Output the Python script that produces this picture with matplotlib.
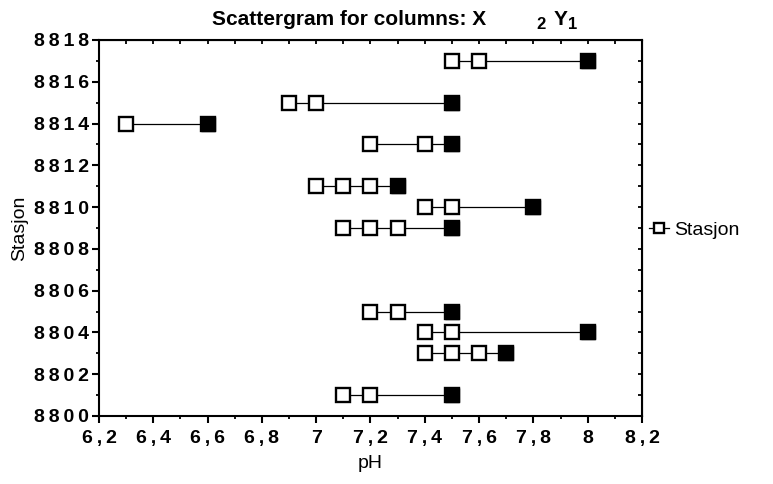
import matplotlib
matplotlib.use("Agg")
import matplotlib.pyplot as plt
from matplotlib.ticker import MultipleLocator, FuncFormatter

plt.rcParams['font.family'] = ['Liberation Sans', 'DejaVu Sans']

# one row per station: pH readings, last one drawn filled
stations = [8817, 8815, 8814, 8813, 8811, 8810, 8809, 8805, 8804, 8803, 8801]
ph_values = [
    [7.5, 7.6, 8.0],
    [6.9, 7.0, 7.5],
    [6.3, 6.6],
    [7.2, 7.4, 7.5],
    [7.0, 7.1, 7.2, 7.3],
    [7.4, 7.5, 7.8],
    [7.1, 7.2, 7.3, 7.5],
    [7.2, 7.3, 7.5],
    [7.4, 7.5, 8.0],
    [7.4, 7.5, 7.6, 7.7],
    [7.1, 7.2, 7.5],
]

fig = plt.figure(figsize=(7.73, 4.84), dpi=100)
ax = fig.add_axes([0.128, 0.1405, 0.7025, 0.777])

for i, (st, vals) in enumerate(zip(stations, ph_values)):
    ax.plot(vals, [st] * len(vals), '-', color='black', lw=0.9,
            marker='s', markersize=10, markerfacecolor='white',
            markeredgecolor='black', markeredgewidth=1.7,
            label='Stasjon' if i == 0 else None, zorder=3)
    ax.plot(vals[-1], st, 's', color='black', markersize=10.5, zorder=4)

ax.set_xlim(6.2, 8.2)
ax.set_ylim(8800, 8818)
ax.xaxis.set_major_locator(MultipleLocator(0.2))
ax.xaxis.set_minor_locator(MultipleLocator(0.1))
ax.yaxis.set_major_locator(MultipleLocator(2))
ax.yaxis.set_minor_locator(MultipleLocator(1))

def spaced(s):
    return '\u2009'.join(s)

ax.xaxis.set_major_formatter(FuncFormatter(
    lambda v, p: spaced(('%g' % round(v, 1)).replace('.', ','))))
ax.yaxis.set_major_formatter(FuncFormatter(lambda v, p: spaced('%d' % v)))

for sp in ax.spines.values():
    sp.set_linewidth(1.5)
ax.tick_params(which='major', direction='out', length=5, width=1.5,
               labelsize=14)
ax.tick_params(axis='x', which='major', pad=5)
ax.tick_params(axis='y', which='major', pad=2)
ax.tick_params(which='minor', direction='out', length=2.5, width=1.3)
for lab in ax.get_xticklabels() + ax.get_yticklabels():
    lab.set_fontweight('bold')

top = ax.secondary_xaxis('top')
top.xaxis.set_major_locator(MultipleLocator(0.2))
top.xaxis.set_minor_locator(MultipleLocator(0.1))
top.tick_params(which='both', direction='in', length=3, width=1.3,
                labeltop=False)
right = ax.secondary_yaxis('right')
right.yaxis.set_major_locator(MultipleLocator(2))
right.yaxis.set_minor_locator(MultipleLocator(1))
right.tick_params(which='both', direction='in', length=3, width=1.3,
                  labelright=False)

ax.set_xlabel('pH', fontsize=14, labelpad=6)
ax.set_ylabel('Stasjon', fontsize=14, labelpad=4)

fig.text(0.274, 0.948, 'Scattergram for columns: X', fontsize=15,
         fontweight='bold', ha='left', va='baseline')
fig.text(0.694, 0.940, '2', fontsize=12, fontweight='bold', ha='left', va='baseline')
fig.text(0.716, 0.948, 'Y', fontsize=15, fontweight='bold', ha='left', va='baseline')
fig.text(0.735, 0.940, '1', fontsize=12, fontweight='bold', ha='left', va='baseline')

fig.legend(loc='center left', bbox_to_anchor=(0.840, 0.525), frameon=False,
           fontsize=14, handlelength=1.0, handletextpad=0.3, borderpad=0,
           borderaxespad=0, markerscale=0.72)

fig.savefig('out.png', dpi=100)
